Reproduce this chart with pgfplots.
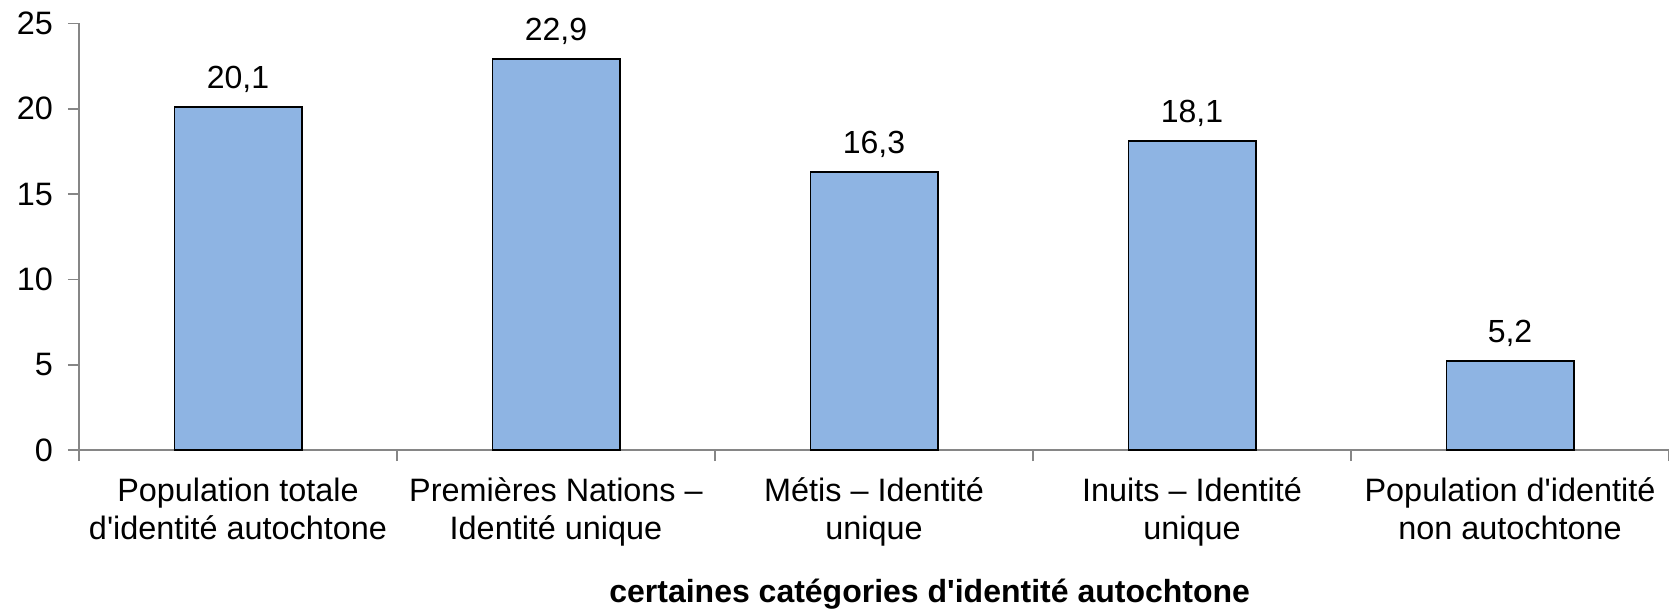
\documentclass[border=0pt]{standalone}
\usepackage{pgfplots}
\pgfplotsset{compat=1.18}
\usepackage{fontspec}
\setmainfont{Liberation Sans}
\definecolor{barblue}{HTML}{8EB4E3}
\definecolor{axgray}{HTML}{868686}
\newcommand{\ap}{\textquotesingle}
\begin{document}
\begin{tikzpicture}
\useasboundingbox (-39.5pt,-80pt) rectangle (795pt,225pt);
\begin{axis}[
  width=795pt, height=213.25pt, scale only axis,
  ymin=0, ymax=25, ytick={0,5,...,25},
  xmin=-0.5, xmax=4.5,
  xtick={0,...,4},
  xticklabels={{Population totale\\d\ap identité autochtone},
               {Premières Nations --\\Identité unique},
               {Métis -- Identité\\unique},
               {Inuits -- Identité\\unique},
               {Population d\ap identité\\non autochtone}},
  minor xtick={-0.5,0.5,1.5,2.5,3.5,4.5},
  major x tick style={draw=none},
  tick align=outside,
  major tick length=5.5pt, minor tick length=5.5pt,
  tick style={axgray, line width=0.8pt},
  axis x line*=bottom, axis y line*=left,
  axis line style={axgray, line width=0.8pt, -},
  every tick label/.append style={font=\fontsize{16.2}{19}\selectfont, text=black},
  xticklabel style={align=center, yshift=-5pt},
  yticklabel style={xshift=-4pt},
  /pgf/number format/assume math mode=true,
  ybar, bar width=0.4,
  nodes near coords,
  nodes near coords style={font=\fontsize{16}{19}\selectfont, yshift=3.5pt, /pgf/number format/.cd, fixed, fixed zerofill, precision=1, use comma},
  xlabel={\bfseries certaines catégories d\ap identité autochtone},
  xlabel style={font=\fontsize{16}{19}\selectfont, at={(axis description cs:0.535,0)}, anchor=base, yshift=-76pt},
]
\addplot[fill=barblue, draw=black, line width=0.9pt] coordinates {
  (0,20.1) (1,22.9) (2,16.3) (3,18.1) (4,5.2)
};
\end{axis}
\end{tikzpicture}
\end{document}
